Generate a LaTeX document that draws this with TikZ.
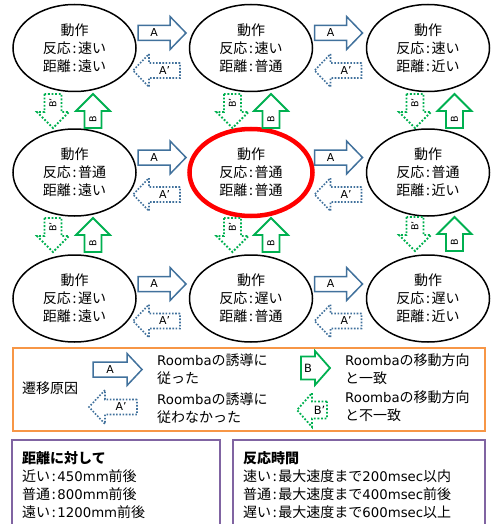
\documentclass[tikz,border=0pt]{standalone}
\usepackage{fontspec}
\setmainfont{Noto Sans CJK JP}
\newfontfamily\lat[Scale=0.95]{DejaVu Sans}
\usetikzlibrary{shapes.geometric}
\definecolor{ablue}{HTML}{41719C}
\definecolor{bgreen}{HTML}{00B050}
\definecolor{redc}{HTML}{FF0000}
\definecolor{orangec}{HTML}{F79646}
\definecolor{purplec}{HTML}{8064A2}
\newcommand{\cln}{\hspace{0.12em}:\hspace{0.12em}}
% #1 name, #2 draw style, #3 transform, #4 label options, #5 length, #6 shaft half, #7 head half, #8 head length, #9 label
\newcommand{\blkarr}[9]{%
  \begin{scope}[#3]
    \draw[#2] (-#5/2,-#6) -- ({#5/2-#8},-#6) -- ({#5/2-#8},-#7) -- ({#5/2},0) -- ({#5/2-#8},#7) -- ({#5/2-#8},#6) -- (-#5/2,#6) -- cycle;
    \node[arrlab,#4] (#1) at ({-#8/2},0) {#9};
  \end{scope}}
\tikzset{
  state/.style={ellipse, draw=black, line width=1.5pt, minimum width=123pt, minimum height=87pt, inner sep=0pt, align=center, font=\fontsize{14}{18}\selectfont},
  hot/.style={draw=redc, line width=4.5pt},
  arrA/.style={draw=ablue, line width=1.5pt},
  arrAd/.style={draw=ablue, line width=1.6pt, dash pattern=on 1.6pt off 1.6pt},
  arrB/.style={draw=bgreen, line width=1.8pt},
  arrBd/.style={draw=bgreen, line width=1.8pt, dash pattern=on 1.8pt off 1.8pt},
  arrlab/.style={inner sep=0pt, font=\lat\fontsize{11.5}{12}\selectfont},
  vlab/.style={rotate=90, font=\lat\fontsize{10}{10}\selectfont},
  txt/.style={inner sep=0pt, anchor=west, align=left, font=\fontsize{14}{18}\selectfont},
  legbox/.style={draw=orangec, line width=1.8pt},
  infobox/.style={draw=purplec, line width=2.5pt}
}
\begin{document}
\begin{tikzpicture}[x=1pt,y=-1pt]
\useasboundingbox (0,0) rectangle (490,524);
% states
\node[state] (e11) at (74.5,48) {動作\\反応\cln 速い\\距離\cln 遠い};
\node[state] (e12) at (251,48) {動作\\反応\cln 速い\\距離\cln 普通};
\node[state] (e13) at (428,48) {動作\\反応\cln 速い\\距離\cln 近い};
\node[state] (e21) at (74.5,172.5) {動作\\反応\cln 普通\\距離\cln 遠い};
\node[state,hot] (e22) at (251,172.5) {動作\\反応\cln 普通\\距離\cln 普通};
\node[state] (e23) at (428,172.5) {動作\\反応\cln 普通\\距離\cln 近い};
\node[state] (e31) at (74.5,298.5) {動作\\反応\cln 遅い\\距離\cln 遠い};
\node[state] (e32) at (251,298.5) {動作\\反応\cln 遅い\\距離\cln 普通};
\node[state] (e33) at (428,298.5) {動作\\反応\cln 遅い\\距離\cln 近い};
% horizontal arrows
\blkarr{a112}{arrA}{shift={(162,33)}}{}{48}{7.5}{16.5}{16}{A}
\blkarr{p112}{arrAd}{shift={(156.5,70.5)},xscale=-1}{}{47}{7.5}{16.5}{16}{A’}
\blkarr{a123}{arrA}{shift={(338.5,33)}}{}{48}{7.5}{16.5}{16}{A}
\blkarr{p123}{arrAd}{shift={(338,70.5)},xscale=-1}{}{47}{7.5}{16.5}{16}{A’}
\blkarr{a212}{arrA}{shift={(162,157.5)}}{}{48}{7.5}{16.5}{16}{A}
\blkarr{p212}{arrAd}{shift={(156.5,194.5)},xscale=-1}{}{47}{7.5}{16.5}{16}{A’}
\blkarr{a223}{arrA}{shift={(338.5,157.5)}}{}{48}{7.5}{16.5}{16}{A}
\blkarr{p223}{arrAd}{shift={(338,194.5)},xscale=-1}{}{47}{7.5}{16.5}{16}{A’}
\blkarr{a312}{arrA}{shift={(162,284)}}{}{48}{7.5}{16.5}{16}{A}
\blkarr{p312}{arrAd}{shift={(156.5,321)},xscale=-1}{}{47}{7.5}{16.5}{16}{A’}
\blkarr{a323}{arrA}{shift={(338.5,284)}}{}{48}{7.5}{16.5}{16}{A}
\blkarr{p323}{arrAd}{shift={(338,321)},xscale=-1}{}{47}{7.5}{16.5}{16}{A’}
% vertical arrows, gap 1
\blkarr{q11}{arrBd}{shift={(53,111)},rotate=90,xscale=-1}{vlab}{34}{8.5}{16}{16}{B’}
\blkarr{b11}{arrB}{shift={(93,111)},rotate=90}{vlab}{34}{8.5}{17}{17}{B}
\blkarr{q12}{arrBd}{shift={(232.5,111)},rotate=90,xscale=-1}{vlab}{34}{8.5}{16}{16}{B’}
\blkarr{b12}{arrB}{shift={(271,111)},rotate=90}{vlab}{34}{8.5}{17}{17}{B}
\blkarr{q13}{arrBd}{shift={(415,111)},rotate=90,xscale=-1}{vlab}{34}{8.5}{16}{16}{B’}
\blkarr{b13}{arrB}{shift={(454.5,111)},rotate=90}{vlab}{34}{8.5}{17}{17}{B}
% vertical arrows, gap 2
\blkarr{q21}{arrBd}{shift={(53,235)},rotate=90,xscale=-1}{vlab}{34}{8.5}{16}{16}{B’}
\blkarr{b21}{arrB}{shift={(93,235)},rotate=90}{vlab}{34}{8.5}{17}{17}{B}
\blkarr{q22}{arrBd}{shift={(232.5,235)},rotate=90,xscale=-1}{vlab}{34}{8.5}{16}{16}{B’}
\blkarr{b22}{arrB}{shift={(271,235)},rotate=90}{vlab}{34}{8.5}{17}{17}{B}
\blkarr{q23}{arrBd}{shift={(415,234)},rotate=90,xscale=-1}{vlab}{34}{8.5}{16}{16}{B’}
\blkarr{b23}{arrB}{shift={(454.5,234)},rotate=90}{vlab}{34}{8.5}{17}{17}{B}
% legend
\draw[legbox] (13,348) rectangle (485,431);
\node[txt] (cause) at (22,388) {遷移原因};
\blkarr{la}{arrA}{shift={(117.5,369.5)}}{}{49}{7.5}{16}{15}{A}
\blkarr{lap}{arrAd}{shift={(113,407)},xscale=-1}{}{48}{7.5}{17}{16}{A’}
\blkarr{lb}{arrB}{shift={(315.5,368)}}{font=\lat\fontsize{12}{12}\selectfont}{29}{11.5}{17}{15}{B}
\blkarr{lbp}{arrBd}{shift={(312,410)},xscale=-1}{font=\lat\fontsize{12}{12}\selectfont}{30}{8.5}{17}{15}{B’}
\node[txt] (ta) at (157,369) {{\lat Roomba}の誘導に\\従った};
\node[txt] (tap) at (157,408) {{\lat Roomba}の誘導に\\従わなかった};
\node[txt] (tb) at (345,369) {{\lat Roomba}の移動方向\\と一致};
\node[txt] (tbp) at (345,406) {{\lat Roomba}の移動方向\\と不一致};
% info boxes
\draw[infobox] (12,440) rectangle (220,530);
\draw[infobox] (233,440) rectangle (485,530);
\node[txt] (dist) at (22,485) {{\bfseries 距離に対して}\\近い\cln{\lat 450mm}前後\\普通\cln{\lat 800mm}前後\\遠い\cln{\lat 1200mm}前後};
\node[txt] (resp) at (243,485) {{\bfseries 反応時間}\\速い\cln 最大速度まで{\lat 200msec}以内\\普通\cln 最大速度まで{\lat 400msec}前後\\遅い\cln 最大速度まで{\lat 600msec}以上};
\end{tikzpicture}
\end{document}
